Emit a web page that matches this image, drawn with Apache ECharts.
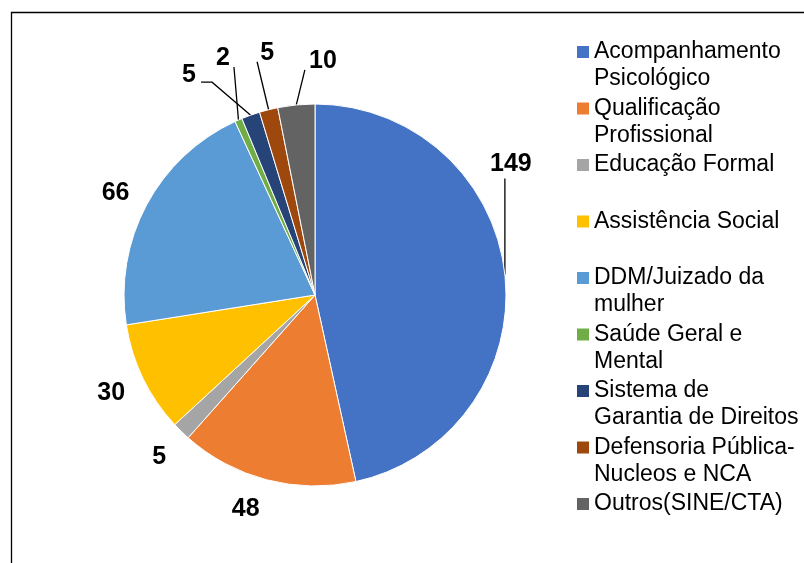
<!DOCTYPE html>
<html>
<head>
<meta charset="utf-8">
<script src="https://cdn.jsdelivr.net/npm/echarts@6/dist/echarts.min.js"></script>
<style>
  html, body { margin: 0; padding: 0; background: #fff; }
  #chart { width: 804px; height: 563px; }
</style>
</head>
<body>
<div id="chart"></div>
<script>
var categories = ['Acompanhamento Psicológico', 'Qualificação Profissional', 'Educação Formal', 'Assistência Social',
  'DDM/Juizado da mulher', 'Saúde Geral e Mental', 'Sistema de Garantia de Direitos',
  'Defensoria Pública-Nucleos e NCA', 'Outros(SINE/CTA)'];
var legendLines = ['Acompanhamento\nPsicológico', 'Qualificação\nProfissional', 'Educação Formal\n ', 'Assistência Social\n ',
  'DDM/Juizado da\nmulher', 'Saúde Geral e\nMental', 'Sistema de\nGarantia de Direitos',
  'Defensoria Pública-\nNucleos e NCA', 'Outros(SINE/CTA)\n '];
var values = [149, 48, 5, 30, 66, 2, 5, 5, 10];
var colors = ['#4472C4', '#ED7D31', '#A5A5A5', '#FFC000', '#5B9BD5', '#70AD47', '#264478', '#9E480E', '#636363'];

// label centre, relative to the point where the slice's label line starts
var labelOffset = [[6, -110], [-21, 29], [-22, 26], [-32, 15], [-31, -12], [-15.5, -62], [-61.6, -40], [-1.5, -57], [26.6, -44]];
// leader line bends, relative to the same point (null = no line)
var lineBend = [[[0, -96]], null, null, null, null, [[-4.5, -53]], [[-38.6, -33], [-49.6, -33]], [[-11.5, -48]], [[8.6, -35]]];

var font = '"Liberation Sans", Arial, sans-serif';

var myChart = echarts.init(document.getElementById('chart'));

var pieData = categories.map(function (name, i) {
  return { name: name, value: values[i], itemStyle: { color: colors[i] } };
});

var option = {
  animation: false,
  backgroundColor: '#fff',
  graphic: [{
    type: 'rect',
    silent: true,
    z: -1,
    shape: { x: 11.5, y: 12.5, width: 900, height: 700 },
    style: { fill: 'none', stroke: '#000', lineWidth: 1.3 }
  }],
  legend: {
    orient: 'vertical',
    left: 577,
    top: 38.5,
    padding: 0,
    itemGap: 2.5,
    itemWidth: 12,
    itemHeight: 54,
    icon: 'path://M0,0h0.01v0.01h-0.01zM0,53.99h0.01v0.01h-0.01zM0,7.5h12v12h-12z',
    itemStyle: { borderWidth: 0 },
    selectedMode: false,
    textStyle: { fontSize: 23, lineHeight: 27, color: '#000', fontFamily: font },
    formatter: function (name) {
      return legendLines[categories.indexOf(name)];
    },
    data: categories
  },
  series: [{
    type: 'pie',
    center: [315, 295],
    radius: 191,
    startAngle: 90,
    clockwise: true,
    avoidLabelOverlap: false,
    itemStyle: { borderColor: '#fff', borderWidth: 1 },
    emphasis: { disabled: true },
    label: {
      show: true,
      position: 'outside',
      formatter: '{c}',
      fontSize: 25,
      fontWeight: 'bold',
      color: '#000',
      fontFamily: font
    },
    labelLine: {
      show: true,
      length: 10,
      length2: 10,
      lineStyle: { color: '#000', width: 1.3 }
    },
    labelLayout: function (p) {
      var i = p.dataIndex;
      var a = p.labelLinePoints[0];
      var off = labelOffset[i];
      var pts = [[a[0], a[1]]];
      (lineBend[i] || [[0, 0]]).forEach(function (b) {
        pts.push([a[0] + b[0], a[1] + b[1]]);
      });
      while (pts.length < 3) pts.push(pts[pts.length - 1].slice());
      return {
        x: a[0] + off[0],
        y: a[1] + off[1],
        align: 'center',
        verticalAlign: 'middle',
        labelLinePoints: pts
      };
    },
    data: pieData
  }]
};

myChart.setOption(option);
</script>
</body>
</html>
